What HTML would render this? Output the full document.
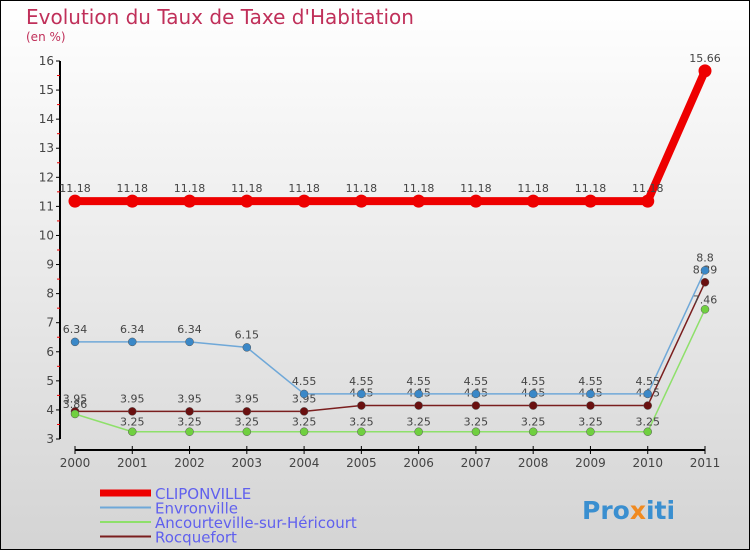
<!DOCTYPE html>
<html><head><meta charset="utf-8"><style>
body{margin:0}
svg{display:block;font-family:"DejaVu Sans","Liberation Sans",sans-serif}
</style></head><body>
<svg width="750" height="550" viewBox="0 0 750 550">
<defs><linearGradient id="bg" x1="0" y1="0" x2="0" y2="1"><stop offset="0" stop-color="#ffffff"/><stop offset="1" stop-color="#d4d4d4"/></linearGradient></defs>
<rect x="0.5" y="0.5" width="749" height="549" fill="url(#bg)" stroke="#000"/>
<text x="26" y="24" font-size="20" fill="#c0305a">Evolution du Taux de Taxe d'Habitation</text>
<text x="26" y="41" font-size="12" fill="#c0305a">(en %)</text>
<g id="axes"></g>
<g id="series"></g>
<g id="legend"></g>
<text x="582" y="519" font-size="25" font-weight="bold" fill="#3a8fd0">Pro<tspan fill="#f08a20">x</tspan>iti</text>
</svg>
<script>
const years=[2000,2001,2002,2003,2004,2005,2006,2007,2008,2009,2010,2011];
const yTicks=[3,4,5,6,7,8,9,10,11,12,13,14,15,16];
const cliponville=[11.18,11.18,11.18,11.18,11.18,11.18,11.18,11.18,11.18,11.18,11.18,15.66];
const envronville=[6.34,6.34,6.34,6.15,4.55,4.55,4.55,4.55,4.55,4.55,4.55,8.8];
const ancourteville=[3.86,3.25,3.25,3.25,3.25,3.25,3.25,3.25,3.25,3.25,3.25,7.46];
const rocquefort=[3.95,3.95,3.95,3.95,3.95,4.15,4.15,4.15,4.15,4.15,4.15,8.39];
const NS="http://www.w3.org/2000/svg";
const X=i=>75+i*(630/11);
const Y=v=>439-(v-3)*(378/13);
function mk(t,a,p){const e=document.createElementNS(NS,t);for(const k in a)e.setAttribute(k,a[k]);p.appendChild(e);return e;}
const ax=document.getElementById('axes');
let l=mk('line',{x1:60,y1:61,x2:60,y2:439,stroke:'#000','stroke-width':2},ax);


yTicks.forEach(v=>{
 mk('line',{x1:56,y1:Y(v),x2:60,y2:Y(v),stroke:'#000'},ax);
 if(v<16)mk('line',{x1:57,y1:Y(v+0.5),x2:60,y2:Y(v+0.5),stroke:'#e00'},ax);
 const t=mk('text',{x:54,y:Y(v)+4,'font-size':12,fill:'#444','text-anchor':'end'},ax);t.textContent=v;
 
 
});
l=mk('line',{x1:75,y1:450,x2:705,y2:450,stroke:'#000','stroke-width':2},ax);


years.forEach((y,i)=>{
 mk('line',{x1:X(i),y1:446,x2:X(i),y2:454,stroke:'#000'},ax);
 const t=mk('text',{x:X(i),y:467,'font-size':12,fill:'#444','text-anchor':'middle'},ax);t.textContent=y;
 
 
});
const sg=document.getElementById('series');
const series=[
 {name:'rocquefort',d:rocquefort,c:'#7a1e1e',w:1.5,r:4,dot:'#6a1010'},
 {name:'ancourteville',d:ancourteville,c:'#8ee06a',w:1.5,r:4,dot:'#70d040'},
 {name:'envronville',d:envronville,c:'#6fa8d8',w:1.5,r:4,dot:'#3a88c8'},
 {name:'cliponville',d:cliponville,c:'#ee0000',w:8,r:6.5,dot:'#ee0000'}];
series.forEach(s=>{
 const g=mk('g',{},sg);
 
 
 const p=mk('polyline',{points:s.d.map((v,i)=>X(i)+','+Y(v)).join(' '),fill:'none',stroke:s.c,'stroke-width':s.w},g);
 
 
 s.d.forEach((v,i)=>{
  const c=mk('circle',{cx:X(i),cy:Y(v),r:s.r,fill:s.dot,stroke:'#555','stroke-width':s.w>3?0:0.5},g);
  
  
  const off=(s.name==='ancourteville')?-6:-9;
  const t=mk('text',{x:X(i),y:Y(v)+off,'font-size':11,fill:'#444','text-anchor':'middle'},g);
  t.textContent=v;
  
  
 });
});
const lg=document.getElementById('legend');
[['CLIPONVILLE','#ee0000',7],['Envronville','#6fa8d8',2],['Ancourteville-sur-Héricourt','#8ee06a',2],['Rocquefort','#7a1e1e',2]].forEach((e,i)=>{
 const y=493+i*14.5;
 const g=mk('g',{},lg);
 
 
 mk('line',{x1:100,y1:y,x2:151,y2:y,stroke:e[1],'stroke-width':e[2]},g);
 const t=mk('text',{x:155,y:y+6,'font-size':15,fill:'#6060ee'},g);t.textContent=e[0];
});
</script>
</body></html>
